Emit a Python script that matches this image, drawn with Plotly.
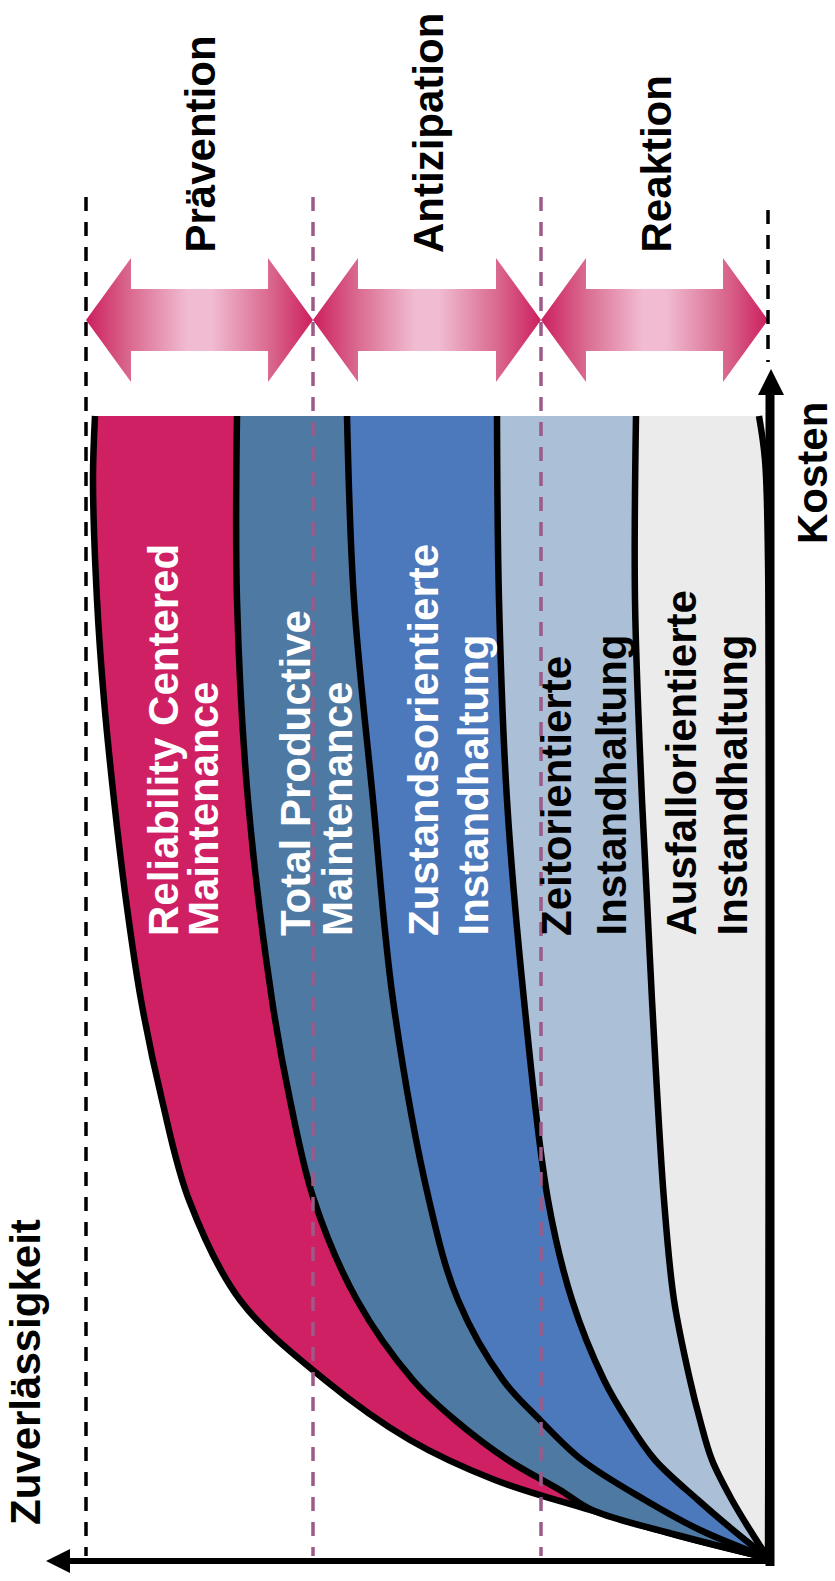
import plotly.graph_objects as go

W, H = 835, 1581

# Band boundaries (Zuverlässigkeit runs to the left, Kosten runs upward).
# Each boundary is sampled as screen-space (x, y) pairs from the top edge down to the origin.
rcm_outer_y = [416, 480, 600, 700, 800, 900, 1000, 1100, 1200, 1300, 1380, 1440, 1480, 1510, 1535, 1558]
rcm_outer_x = [95, 93, 97, 104, 114, 126, 141, 162, 189, 240, 325, 410, 495, 590, 676, 768]

tpm_y = [416, 600, 800, 1000, 1100, 1200, 1300, 1380, 1420, 1460, 1490, 1510, 1535, 1558]
tpm_x = [237, 237, 248, 272, 290, 314, 357, 413, 455, 508, 560, 592, 677, 768]

zo_y = [416, 600, 800, 1000, 1200, 1300, 1380, 1420, 1460, 1500, 1530, 1558]
zo_x = [347, 354, 373, 393, 429, 458, 503, 540, 582, 645, 700, 768]

zeit_y = [416, 600, 800, 1000, 1200, 1300, 1380, 1420, 1460, 1500, 1530, 1558]
zeit_x = [497, 499, 507, 524, 548, 572, 604, 627, 655, 698, 733, 768]

ausfall_y = [416, 600, 800, 1000, 1200, 1300, 1380, 1420, 1460, 1500, 1530, 1558]
ausfall_x = [636, 635, 642, 652, 664, 674, 690, 700, 712, 732, 750, 768]

edge_y = [416, 460, 560, 1558]
edge_x = [759, 765, 768, 768]

band_colors = ["#D02064", "#4E79A3", "#4C78BC", "#ABBFD6", "#EBEBEB"]

# Strategy ranges (double arrows) along the Zuverlässigkeit axis
range_bounds = [86, 313, 541, 768]
range_names = ["Prävention", "Antizipation", "Reaktion"]
arrow_cy, arrow_head_half, arrow_shaft_half, arrow_head_len = 320, 62, 31, 45

# Band labels: (line text, x centre, y where text starts, colour)
band_labels = [
    ("Reliability Centered", 163, 937, "white"),
    ("Maintenance", 203, 937, "white"),
    ("Total Productive", 295, 937, "white"),
    ("Maintenance", 337, 937, "white"),
    ("Zustandsorientierte", 423, 937, "white"),
    ("Instandhaltung", 473, 937, "white"),
    ("Zeitorientierte", 556, 937, "black"),
    ("Instandhaltung", 611, 937, "black"),
    ("Ausfallorientierte", 681, 937, "black"),
    ("Instandhaltung", 732, 937, "black"),
]
heading_x = [200, 428, 656]
heading_bottom = 254

FONT = "Liberation Sans, Arial, sans-serif"

fig = go.Figure()

# Boundary curves with fills between neighbours
curves = [
    (rcm_outer_x, rcm_outer_y),
    (tpm_x, tpm_y),
    (zo_x, zo_y),
    (zeit_x, zeit_y),
    (ausfall_x, ausfall_y),
    (edge_x, edge_y),
]
for i, (cx, cy) in enumerate(curves):
    fig.add_trace(go.Scatter(
        x=cx, y=cy, mode="lines",
        line=dict(color="black", width=6.5, shape="spline", smoothing=1),
        fill="tonextx" if i > 0 else "none",
        fillcolor=band_colors[i - 1] if i > 0 else None,
        hoverinfo="skip",
    ))

# Double arrows with a pink gradient
for k in range(3):
    L, R = range_bounds[k], range_bounds[k + 1]
    h = arrow_head_len
    cy = arrow_cy
    A, S = arrow_head_half, arrow_shaft_half
    xs = [L, L + h, L + h, R - h, R - h, R, R - h, R - h, L + h, L + h, L]
    ys = [cy, cy - A, cy - S, cy - S, cy - A, cy, cy + A, cy + S, cy + S, cy + A, cy]
    fig.add_trace(go.Scatter(
        x=xs, y=ys, mode="lines", line=dict(width=0),
        fill="toself",
        fillgradient=dict(
            type="horizontal",
            colorscale=[[0, "#CC1F5E"], [0.2, "#DA6C91"], [0.45, "#F1BCD2"],
                        [0.55, "#F1BCD2"], [0.8, "#DA6C91"], [1, "#CC1F5E"]],
        ),
        hoverinfo="skip",
    ))

shapes = []
# Dashed separators
dash_specs = [(86, 197, 1556, "black"), (313, 197, 1556, "#9C5A88"),
              (541, 197, 1556, "#9C5A88"), (768, 210, 362, "black")]
for x, y0, y1, col in dash_specs:
    shapes.append(dict(type="line", x0=x, x1=x, y0=y0, y1=y1, layer="above",
                       line=dict(color=col, width=3.5, dash="14px,11px")))

# Axes with arrowheads
shapes.append(dict(type="line", x0=770, x1=770, y0=1566, y1=392, layer="above",
                   line=dict(color="black", width=9)))
shapes.append(dict(type="path", path="M 758 395 L 771 369 L 784 395 Z", layer="above",
                   fillcolor="black", line=dict(width=0)))
shapes.append(dict(type="line", x0=770, x1=66, y0=1561, y1=1561, layer="above",
                   line=dict(color="black", width=6)))
shapes.append(dict(type="path", path="M 70 1549 L 46 1561 L 70 1573 Z", layer="above",
                   fillcolor="black", line=dict(width=0)))

annotations = []
for text, x, y, col in band_labels:
    annotations.append(dict(text=f"<b>{text}</b>", x=x, y=y, xref="x", yref="y",
                            xanchor="center", yanchor="bottom", textangle=-90,
                            showarrow=False, borderpad=0,
                            font=dict(family=FONT, size=42, color=col)))
for name, x in zip(range_names, heading_x):
    annotations.append(dict(text=f"<b>{name}</b>", x=x, y=heading_bottom, xref="x", yref="y",
                            xanchor="center", yanchor="bottom", textangle=-90,
                            showarrow=False, borderpad=0,
                            font=dict(family=FONT, size=42, color="black")))
annotations.append(dict(text="<b>Kosten</b>", x=812, y=545, xref="x", yref="y",
                        xanchor="center", yanchor="bottom", textangle=-90,
                        showarrow=False, borderpad=0,
                        font=dict(family=FONT, size=42, color="black")))
annotations.append(dict(text="<b>Zuverlässigkeit</b>", x=25, y=1526, xref="x", yref="y",
                        xanchor="center", yanchor="bottom", textangle=-90,
                        showarrow=False, borderpad=0,
                        font=dict(family=FONT, size=42, color="black")))

fig.update_layout(
    width=W, height=H,
    margin=dict(l=0, r=0, t=0, b=0),
    paper_bgcolor="white", plot_bgcolor="white",
    showlegend=False,
    xaxis=dict(range=[0, W], visible=False, fixedrange=True),
    yaxis=dict(range=[H, 0], visible=False, fixedrange=True),
    shapes=shapes,
    annotations=annotations,
)

fig.write_html("out.html")
